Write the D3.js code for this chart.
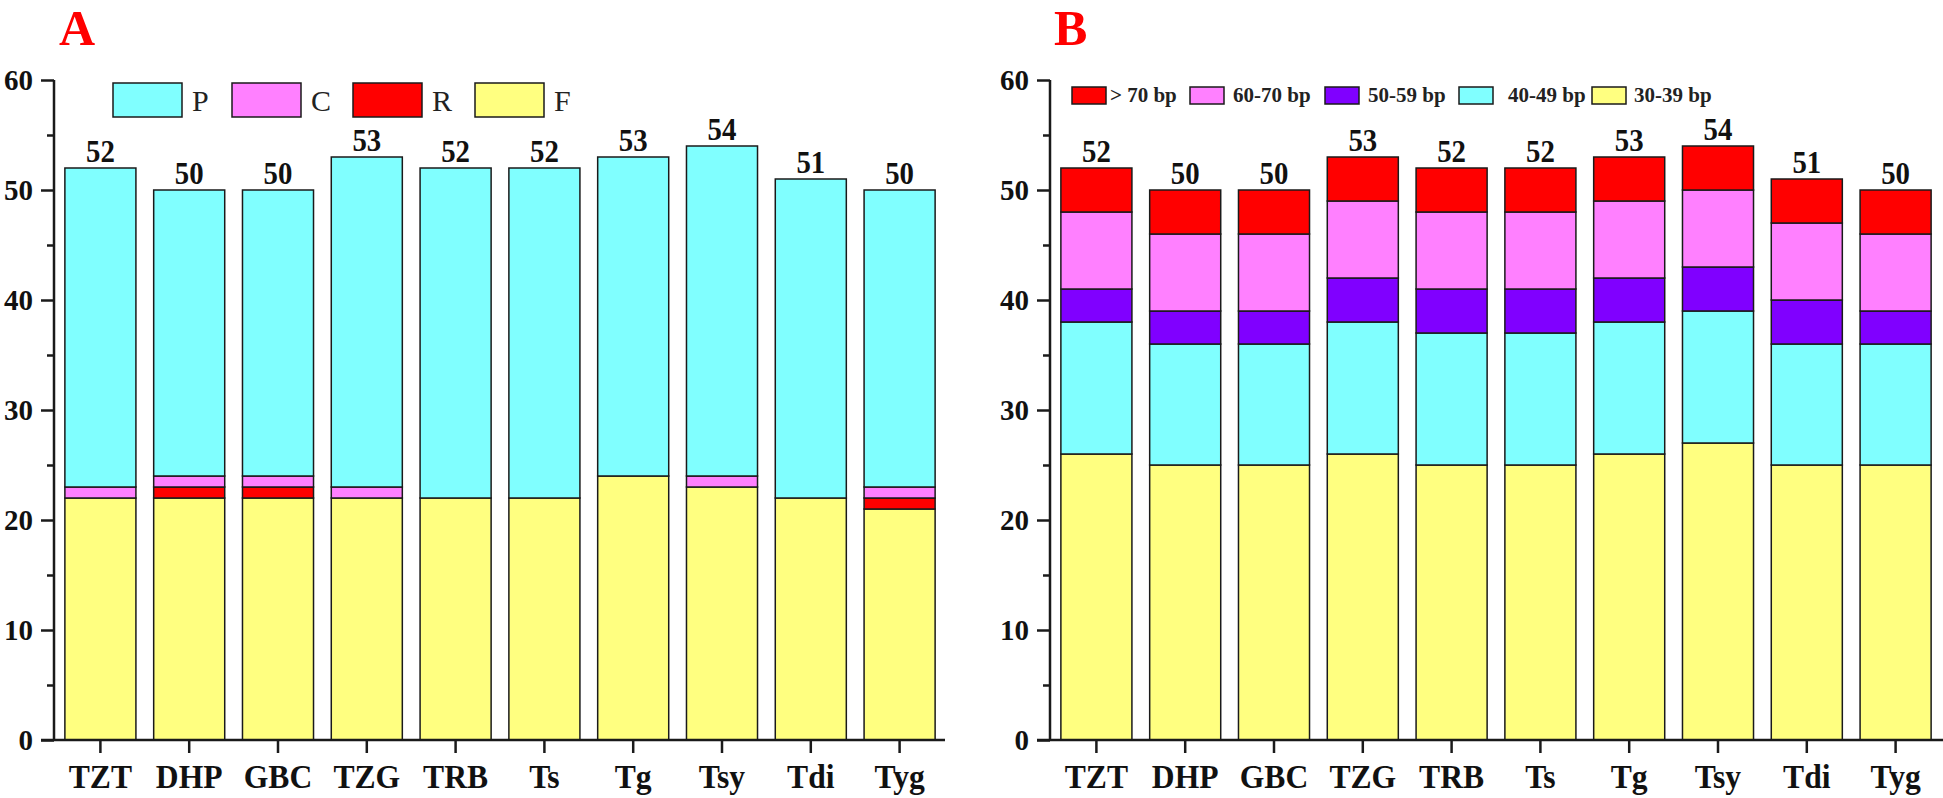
<!DOCTYPE html>
<html><head><meta charset="utf-8">
<script src="https://cdn.jsdelivr.net/npm/d3@7"></script>
<style>
html,body{margin:0;padding:0;background:#fff;}
svg{display:block;font-family:"Liberation Serif","Times New Roman",serif;}
</style></head>
<body>
<svg id="chart" width="1943" height="798"></svg>
<script>
// ---------- DATA ----------
const categories = ["TZT","DHP","GBC","TZG","TRB","Ts","Tg","Tsy","Tdi","Tyg"];
// Panel A (stack order bottom->top: F, R, C, P)
const seriesA_F = [22,22,22,22,22,22,24,23,22,21];
const seriesA_R = [0,1,1,0,0,0,0,0,0,1];
const seriesA_C = [1,1,1,1,0,0,0,1,0,1];
const seriesA_P = [29,26,26,30,30,30,29,30,29,27];
const legendA = ["P","C","R","F"];
// Panel B (stack order bottom->top: 30-39, 40-49, 50-59, 60-70, >70)
const seriesB_30 = [26,25,25,26,25,25,26,27,25,25];
const seriesB_40 = [12,11,11,12,12,12,12,12,11,11];
const seriesB_50 = [3,3,3,4,4,4,4,4,4,3];
const seriesB_60 = [7,7,7,7,7,7,7,7,7,7];
const seriesB_70 = [4,4,4,4,4,4,4,4,4,4];
const legendB = ["> 70 bp","60-70 bp","50-59 bp","40-49 bp","30-39 bp"];
const yTicks = [0,10,20,30,40,50,60];
const yMinorTicks = [5,15,25,35,45,55];

// ---------- STYLE ----------
const colA = {P:"#80FFFF", C:"#FF80FF", R:"#FF0000", F:"#FFFF80"};
const colB = ["#FF0000","#FF80FF","#8000FF","#80FFFF","#FFFF80"];
const ink = "#1a1a1a";

const svg = d3.select("#chart");

function panel(opts){
  const g = svg.append("g");
  const y = d3.scaleLinear().domain([0,60]).range([740,80]);
  const x = d3.scaleBand().domain(categories).range([opts.x0, opts.x0+888]).paddingInner(0.2).paddingOuter(0.1);

  // stacked bars
  const rows = categories.map((c,i)=>{const o={cat:c}; opts.keys.forEach((k,j)=>o[k]=opts.series[j][i]); return o;});
  const stack = d3.stack().keys(opts.keys)(rows);
  stack.forEach((layer,j)=>{
    g.append("g").selectAll("rect").data(layer).join("rect")
      .attr("x", d=>x(d.data.cat))
      .attr("width", x.bandwidth())
      .attr("y", d=>y(d[1]))
      .attr("height", d=>y(d[0])-y(d[1]))
      .attr("fill", opts.colors[j])
      .attr("stroke", ink).attr("stroke-width",1.5);
  });
  // totals
  const totals = rows.map(r=>d3.sum(opts.keys,k=>r[k]));
  g.append("g").selectAll("text").data(categories).join("text")
    .attr("transform", (c,i)=>`translate(${x(c)+x.bandwidth()/2},${y(totals[i])-6}) scale(0.9,1)`)
    .attr("text-anchor","middle")
    .attr("font-weight","bold").attr("font-size",32).attr("fill","#111")
    .text((c,i)=>totals[i]);

  // y axis
  const ax = opts.axisX;
  const ya = g.append("g").attr("transform",`translate(${ax},0)`)
    .call(d3.axisLeft(y).tickValues(yTicks).tickSize(13).tickPadding(8).tickFormat(d3.format("d")));
  ya.select(".domain").attr("stroke",ink).attr("stroke-width",2.5).attr("d",`M0,${y(60)}V${y(0)}`);
  ya.selectAll(".tick line").attr("stroke",ink).attr("stroke-width",2.5);
  ya.selectAll(".tick text").attr("font-family","Liberation Serif").attr("font-weight","bold")
    .attr("font-size",29).attr("fill","#111").attr("dy","0.34em");
  const ym = g.append("g").attr("transform",`translate(${ax},0)`)
    .call(d3.axisLeft(y).tickValues(yMinorTicks).tickSize(7).tickFormat(""));
  ym.select(".domain").remove();
  ym.selectAll(".tick line").attr("stroke",ink).attr("stroke-width",2.5);

  // x axis
  const xa = g.append("g").attr("transform","translate(0,740)")
    .call(d3.axisBottom(x).tickSize(13).tickFormat(""));
  xa.select(".domain").attr("stroke",ink).attr("stroke-width",2.5).attr("d",`M${ax-13},0H${opts.xEnd}`);
  xa.selectAll(".tick line").attr("stroke",ink).attr("stroke-width",2.5);
  g.append("g").selectAll("text").data(categories).join("text")
    .attr("transform", c=>`translate(${x(c)+x.bandwidth()/2},788) scale(0.93,1)`)
    .attr("text-anchor","middle")
    .attr("font-weight","bold").attr("font-size",34).attr("fill","#111")
    .text(c=>c);

  // panel letter
  svg.append("text").attr("x",opts.letterX).attr("y",45).attr("fill","#FF0000")
    .attr("font-weight","bold").attr("font-size",50).text(opts.letter);
  return g;
}

panel({x0:56, axisX:54, xEnd:945, keys:["F","R","C","P"],
  series:[seriesA_F,seriesA_R,seriesA_C,seriesA_P],
  colors:[colA.F,colA.R,colA.C,colA.P], letter:"A", letterX:59});
panel({x0:1052, axisX:1050, xEnd:1943, keys:["b30","b40","b50","b60","b70"],
  series:[seriesB_30,seriesB_40,seriesB_50,seriesB_60,seriesB_70],
  colors:[colB[4],colB[3],colB[2],colB[1],colB[0]], letter:"B", letterX:1054});

// legend A
const legAx = [113,232,353,475];
const lgA = svg.append("g");
legendA.forEach((k,i)=>{
  lgA.append("rect").attr("x",legAx[i]).attr("y",83).attr("width",69).attr("height",34)
    .attr("fill",colA[k]).attr("stroke",ink).attr("stroke-width",1.5);
  lgA.append("text").attr("x",legAx[i]+79).attr("y",111).attr("font-size",30).attr("fill","#222").text(k);
});
// legend B
const legBx = [1072,1190,1325,1459,1592];
const legBtx = [1110,1233,1368,1508,1634];
const lgB = svg.append("g");
legendB.forEach((k,i)=>{
  lgB.append("rect").attr("x",legBx[i]).attr("y",87).attr("width",34).attr("height",17)
    .attr("fill",colB[i]).attr("stroke",ink).attr("stroke-width",1.5);
  lgB.append("text").attr("transform",`translate(${legBtx[i]},102) scale(1,0.95)`)
    .attr("font-size",21).attr("font-weight","bold").attr("fill","#222").text(k);
});
</script>
</body></html>
